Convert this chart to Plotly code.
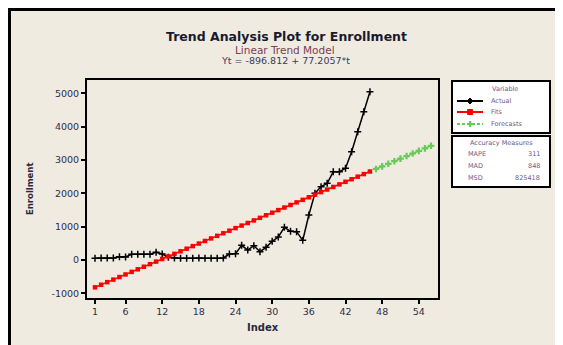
import plotly.graph_objects as go

# ---- data ----
index_actual = list(range(1, 47))
actual = [50, 60, 60, 60, 100, 90, 170, 170, 170, 170,
          230, 180, 80, 60, 50, 50, 50, 60, 50, 50,
          50, 60, 180, 190, 440, 300, 430, 250, 380, 560,
          690, 980, 860, 850, 590, 1350, 2000, 2200, 2300, 2650,
          2650, 2750, 3250, 3850, 4450, 5050]
fits = [-819.6, -742.4, -665.2, -588.0, -510.8, -433.6, -356.4, -279.2, -202.0, -124.8,
        -47.5, 29.7, 106.9, 184.1, 261.3, 338.5, 415.7, 492.9, 570.1, 647.3,
        724.5, 801.7, 878.9, 956.1, 1033.3, 1110.5, 1187.7, 1264.9, 1342.2, 1419.4,
        1496.6, 1573.8, 1651.0, 1728.2, 1805.4, 1882.6, 1959.8, 2037.0, 2114.2, 2191.4,
        2268.6, 2345.8, 2423.0, 2500.2, 2577.4, 2654.7]
index_forecast = list(range(47, 57))
forecasts = [2731.9, 2809.1, 2886.3, 2963.5, 3040.7, 3117.9, 3195.1, 3272.3, 3349.5, 3426.7]

x_ticks = [1, 6, 12, 18, 24, 30, 36, 42, 48, 54]
y_ticks = [-1000, 0, 1000, 2000, 3000, 4000, 5000]
series_names = ["Actual", "Fits", "Forecasts"]
accuracy_labels = ["MAPE", "MAD", "MSD"]
accuracy_values = ["311", "848", "825418"]

TXT = "#2e2e48"
LEG = "#6a5a8a"
FONT = "DejaVu Sans"
GREEN = "#66cc55"
RED = "#ff0000"

# page body has an 8px margin; figure is sized to end at the window edge
OFF = 8
W, H = 563 - OFF, 345 - OFF
PL, PR, PT, PB = 87, 438, 80, 298          # plot area in window pixels
L, T = PL - OFF, PT - OFF
R, B = W - (PR - OFF), H - (PB - OFF)
PW, PH = W - L - R, H - T - B


def px(x):
    return (x - OFF - L) / PW


def py(y):
    return (H - B - (y - OFF)) / PH


fig = go.Figure()
fig.add_trace(go.Scatter(x=index_actual, y=actual, mode="lines+markers", name="Actual",
                         line=dict(color="black", width=1.5),
                         marker=dict(symbol="cross-thin", size=5, color="black",
                                     line=dict(color="black", width=1.5))))
fig.add_trace(go.Scatter(x=index_actual, y=fits, mode="lines+markers", name="Fits",
                         line=dict(color=RED, width=1.5),
                         marker=dict(symbol="square", size=4.5, color=RED)))
fig.add_trace(go.Scatter(x=index_forecast, y=forecasts, mode="lines+markers", name="Forecasts",
                         line=dict(color=GREEN, width=1.5, dash="dash"),
                         marker=dict(symbol="cross", size=5.5, color=GREEN)))

shapes = [
    # outer beige panel with black frame
    dict(type="rect", xref="paper", yref="paper", layer="below",
         x0=px(9.5), x1=px(557), y0=py(370), y1=py(9.5),
         fillcolor="#efebe1", line=dict(color="black", width=3)),
    # legend boxes
    dict(type="rect", xref="paper", yref="paper",
         x0=px(452), x1=px(550), y0=py(133), y1=py(81),
         fillcolor="white", line=dict(color="black", width=2), layer="below"),
    dict(type="rect", xref="paper", yref="paper",
         x0=px(452), x1=px(550), y0=py(187), y1=py(136),
         fillcolor="white", line=dict(color="black", width=2), layer="below"),
]

# legend samples
leg_y = [101, 112, 124]
leg_col = ["black", RED, GREEN]
leg_dash = ["solid", "solid", "dash"]
for yy, col, dsh in zip(leg_y, leg_col, leg_dash):
    shapes.append(dict(type="line", xref="paper", yref="paper",
                       x0=px(457), x1=px(483), y0=py(yy), y1=py(yy),
                       line=dict(color=col, width=2, dash=dsh if dsh == "solid" else "3px,2px")))
# Actual: diamond marker
shapes.append(dict(type="path", xref="paper", yref="paper",
                   path="M {} {} L {} {} L {} {} L {} {} Z".format(
                       px(470), py(98), px(473), py(101), px(470), py(104), px(467), py(101)),
                   fillcolor="black", line=dict(color="black", width=1)))
# Fits: square marker
shapes.append(dict(type="rect", xref="paper", yref="paper",
                   x0=px(467.5), x1=px(472.5), y0=py(114.5), y1=py(109.5),
                   fillcolor=RED, line=dict(color=RED, width=1)))
# Forecasts: cross marker
shapes.append(dict(type="line", xref="paper", yref="paper",
                   x0=px(470), x1=px(470), y0=py(121), y1=py(127),
                   line=dict(color=GREEN, width=2)))
shapes.append(dict(type="line", xref="paper", yref="paper",
                   x0=px(467), x1=px(473), y0=py(124), y1=py(124),
                   line=dict(color=GREEN, width=2)))

ann = [
    dict(text="<b>Trend Analysis Plot for Enrollment</b>", x=px(286), y=py(37),
         font=dict(size=12.5, color="#1a1a2e", family=FONT)),
    dict(text="Linear Trend Model", x=px(285), y=py(50),
         font=dict(size=10.5, color="#7a4050", family=FONT)),
    dict(text="Yt = -896.812 + 77.2057*t", x=px(285), y=py(61),
         font=dict(size=9.5, color="#3a3a60", family=FONT)),
    dict(text="Variable", x=px(505), y=py(89),
         font=dict(size=6.5, color=LEG, family=FONT)),
    dict(text="Accuracy Measures", x=px(501), y=py(143),
         font=dict(size=6.5, color=LEG, family=FONT)),
    dict(text="<b>Enrollment</b>", x=px(30), y=py(189), textangle=-90,
         font=dict(size=8.5, color="#2a2a3a", family=FONT)),
    dict(text="<b>Index</b>", x=px(263), y=py(327),
         font=dict(size=10, color="#2a2a3a", family=FONT)),
]
for name, yy in zip(series_names, leg_y):
    ann.append(dict(text=name, x=px(489), y=py(yy), xanchor="left",
                    font=dict(size=6.5, color=LEG, family=FONT)))
rows_y = [154, 166, 178]
for lab, val, yy in zip(accuracy_labels, accuracy_values, rows_y):
    ann.append(dict(text=lab, x=px(466), y=py(yy), xanchor="left",
                    font=dict(size=6.5, color=LEG, family=FONT)))
    ann.append(dict(text=val, x=px(542), y=py(yy), xanchor="right",
                    font=dict(size=6.5, color=LEG, family=FONT)))
for a in ann:
    a.setdefault("xref", "paper")
    a.setdefault("yref", "paper")
    a.setdefault("showarrow", False)
    a.setdefault("xanchor", "center")
    a.setdefault("yanchor", "middle")

fig.update_layout(
    width=W, height=H,
    margin=dict(l=L, r=R, t=T, b=B, pad=0),
    paper_bgcolor="white",
    plot_bgcolor="white",
    font=dict(family=FONT, color=TXT, size=9),
    showlegend=False,
    shapes=shapes,
    annotations=ann,
    xaxis=dict(range=[-0.31, 57.14], tickvals=x_ticks, ticktext=[str(v) for v in x_ticks],
               showgrid=False, zeroline=False, showline=True, mirror=True,
               linecolor="black", linewidth=2, ticks="outside", ticklen=4,
               tickcolor="black", tickwidth=1.5,
               tickfont=dict(size=9.5, color=TXT, family=FONT)),
    yaxis=dict(range=[-1140, 5400], tickvals=y_ticks, ticktext=[str(v) for v in y_ticks],
               showgrid=False, zeroline=False, showline=True, mirror=True,
               linecolor="black", linewidth=2, ticks="outside", ticklen=4,
               tickcolor="black", tickwidth=1.5,
               tickfont=dict(size=9.5, color=TXT, family=FONT)),
)

fig.write_html("out.html")
